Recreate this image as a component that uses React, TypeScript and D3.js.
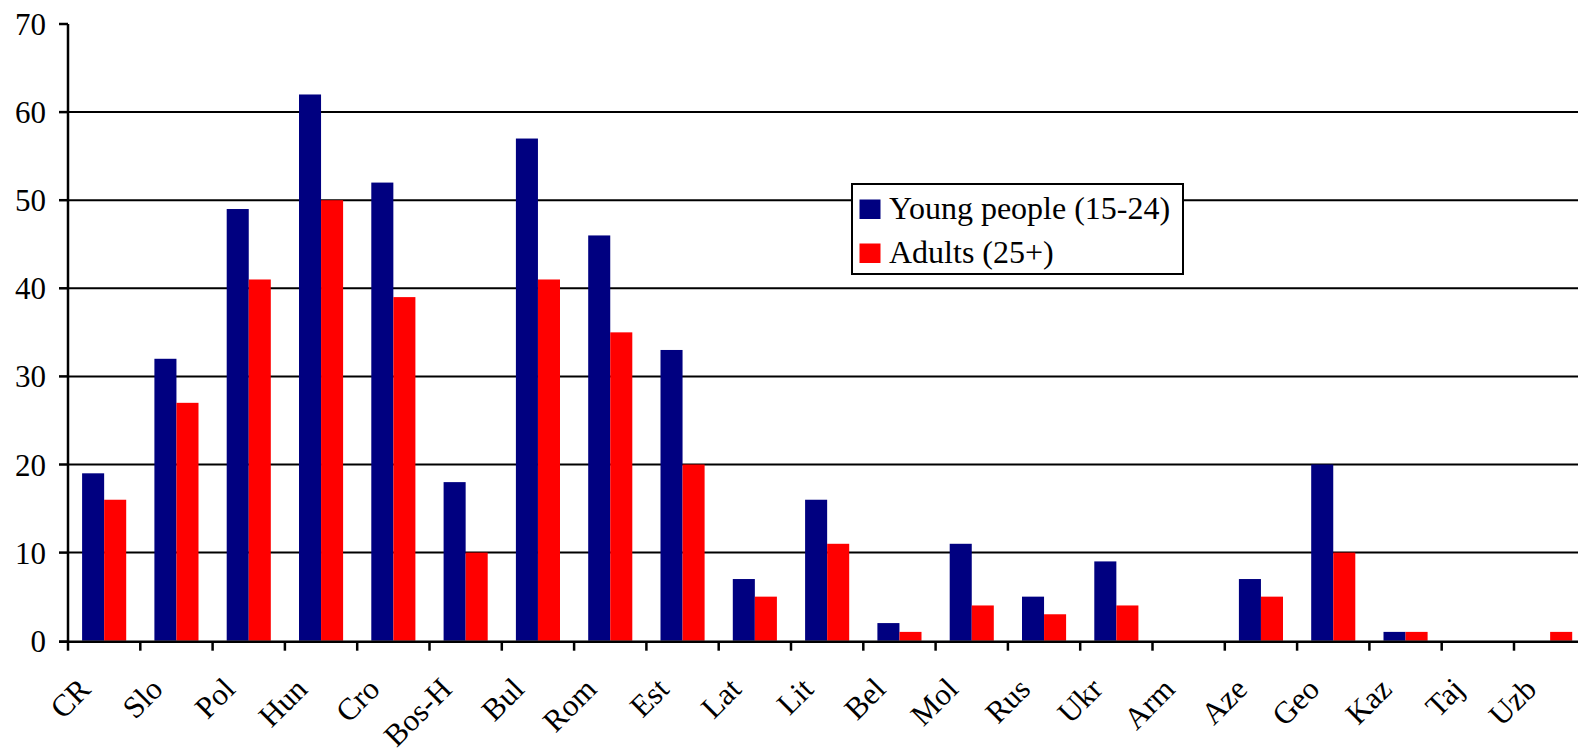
import React from "react";
import * as d3 from "d3";

const categories = ["CR", "Slo", "Pol", "Hun", "Cro", "Bos-H", "Bul", "Rom", "Est", "Lat", "Lit", "Bel", "Mol", "Rus", "Ukr", "Arm", "Aze", "Geo", "Kaz", "Taj", "Uzb"];
const youngValues = [19, 32, 49, 62, 52, 18, 57, 46, 33, 7, 16, 2, 11, 5, 9, 0, 7, 20, 1, 0, 0];
const adultValues = [16, 27, 41, 50, 39, 10, 41, 35, 20, 5, 11, 1, 4, 3, 4, 0, 5, 10, 1, 0, 1];
const seriesNames = ["Young people (15-24)", "Adults (25+)"];
const seriesColors = ["#000080", "#FF0000"];
const yTicks = [0, 10, 20, 30, 40, 50, 60, 70];

const W = 1578;
const H = 749;
const left = 68;
const step = 72.3;
const right = left + step * categories.length;
const yBottom = 640.7;
const yTop = 24;
const FONT = "'Liberation Serif', 'Times New Roman', serif";

export default function App() {
  const x = d3.scaleBand<string>().domain(categories).range([left, right]).paddingInner(0.39).paddingOuter(0.195);
  const xs = d3.scaleBand<string>().domain(["young", "adult"]).range([0, x.bandwidth()]);
  const y = d3.scaleLinear().domain([0, 70]).range([yBottom, yTop]);
  const series = [
    { key: "young", values: youngValues, color: seriesColors[0] },
    { key: "adult", values: adultValues, color: seriesColors[1] },
  ];
  const boundaries = d3.range(categories.length + 1).map((i) => left + i * x.step());

  return (
    <svg width={W} height={H} style={{ position: "absolute", left: 0, top: 0, background: "#fff" }} fontFamily={FONT}>
      {/* horizontal gridlines */}
      {yTicks.filter((t) => t > 0 && t < 70).map((t) => (
        <line key={"g" + t} x1={left} x2={W} y1={y(t)} y2={y(t)} stroke="#000" strokeWidth={2} />
      ))}
      {/* bars */}
      {series.map((s) =>
        categories.map((c, i) =>
          s.values[i] > 0 ? (
            <rect key={s.key + c} x={(x(c) as number) + (xs(s.key) as number)} width={xs.bandwidth()} y={y(s.values[i])} height={y(0) - y(s.values[i])} fill={s.color} />
          ) : null
        )
      )}
      {/* axes */}
      <line x1={left} x2={left} y1={yTop} y2={yBottom + 1} stroke="#000" strokeWidth={2.5} />
      <line x1={left - 9} x2={W} y1={yBottom + 1} y2={yBottom + 1} stroke="#000" strokeWidth={2.5} />
      {yTicks.map((t) => (
        <g key={"yt" + t}>
          <line x1={left - 9} x2={left} y1={t === 0 ? yBottom + 1 : y(t)} y2={t === 0 ? yBottom + 1 : y(t)} stroke="#000" strokeWidth={2.5} />
          <text x={46} y={y(t) + 11} textAnchor="end" fontSize={31} fill="#000">{t}</text>
        </g>
      ))}
      {boundaries.map((bx, i) => (
        <line key={"xt" + i} x1={bx} x2={bx} y1={yBottom + 1} y2={yBottom + 10} stroke="#000" strokeWidth={2.5} />
      ))}
      {categories.map((c) => {
        const cx = (x(c) as number) + x.bandwidth() / 2 - 12;
        const cy = 691;
        return (
          <text key={"xl" + c} x={cx} y={cy} textAnchor="end" fontSize={31} fill="#000" transform={`rotate(-45 ${cx} ${cy})`}>{c}</text>
        );
      })}
      {/* legend */}
      <g>
        <rect x={852} y={184} width={331} height={90} fill="#fff" stroke="#000" strokeWidth={2} />
        {seriesNames.map((name, i) => (
          <g key={name}>
            <rect x={859.5} y={199.5 + i * 44} width={21} height={19.5} fill={seriesColors[i]} />
            <text x={889} y={218.5 + i * 44} fontSize={32} fill="#000">{name}</text>
          </g>
        ))}
      </g>
    </svg>
  );
}
